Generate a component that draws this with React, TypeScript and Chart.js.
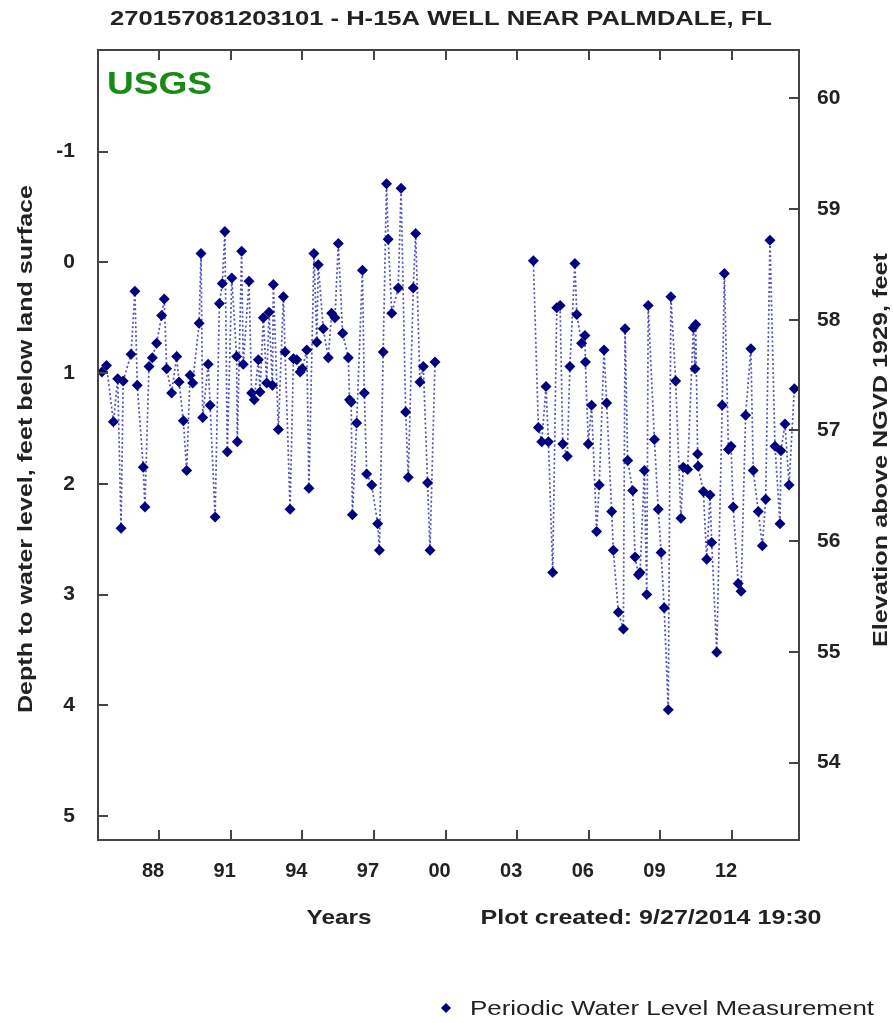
import { useEffect, useRef } from "react";
import { Chart, registerables } from "chart.js";

Chart.register(...registerables);

// ---- Data (decimal year, depth to water in feet below land surface) ----
const YEARS: number[] = [
  1985.61, 1985.8, 1986.09, 1986.27, 1986.41, 1986.5, 1986.83, 1986.99, 1987.09, 1987.34,
  1987.41, 1987.58, 1987.72, 1987.9, 1988.11, 1988.22, 1988.32, 1988.53, 1988.74, 1988.84,
  1989.02, 1989.16, 1989.3, 1989.41, 1989.68, 1989.76, 1989.83, 1990.06, 1990.14, 1990.35,
  1990.53, 1990.65, 1990.76, 1990.86, 1991.05, 1991.25, 1991.28, 1991.46, 1991.53, 1991.77,
  1991.88, 1991.99, 1992.16, 1992.23, 1992.37, 1992.51, 1992.61, 1992.75, 1992.79, 1993.0,
  1993.21, 1993.28, 1993.49, 1993.63, 1993.77, 1993.91, 1994.0, 1994.19, 1994.28, 1994.49,
  1994.61, 1994.67, 1994.88, 1995.09, 1995.23, 1995.37, 1995.51, 1995.69, 1995.93, 1995.98,
  1996.05, 1996.1, 1996.28, 1996.52, 1996.6, 1996.7, 1996.91, 1997.16, 1997.23, 1997.39,
  1997.53, 1997.6, 1997.75, 1998.02, 1998.14, 1998.33, 1998.44, 1998.65, 1998.75, 1998.93,
  1999.07, 1999.25, 1999.35, 1999.56,
  2001.6,
  2003.68, 2003.89, 2004.03, 2004.21, 2004.31, 2004.49, 2004.66, 2004.8, 2004.91, 2005.1,
  2005.21, 2005.42, 2005.5, 2005.7, 2005.84, 2005.86, 2005.98, 2006.12, 2006.33, 2006.44,
  2006.64, 2006.75, 2006.96, 2007.03, 2007.24, 2007.45, 2007.52, 2007.63, 2007.84, 2007.94,
  2008.08, 2008.15, 2008.33, 2008.43, 2008.49, 2008.75, 2008.91, 2009.03, 2009.16, 2009.33,
  2009.44, 2009.64, 2009.86, 2009.96, 2010.14, 2010.38, 2010.45, 2010.48, 2010.56, 2010.58,
  2010.8, 2010.94, 2011.08, 2011.15, 2011.36, 2011.59, 2011.68, 2011.85, 2011.96, 2012.05,
  2012.26, 2012.38, 2012.57, 2012.79, 2012.89, 2013.1, 2013.27, 2013.41, 2013.59, 2013.8,
  2014.01, 2014.05, 2014.22, 2014.39, 2014.61,
];

const DEPTHS: (number | null)[] = [
  0.99, 0.93, 1.44, 1.05, 2.4, 1.07, 0.83, 0.26, 1.11, 1.85,
  2.21, 0.94, 0.86, 0.73, 0.48, 0.33, 0.96, 1.18, 0.85, 1.08,
  1.43, 1.88, 1.02, 1.09, 0.55, -0.08, 1.4, 0.92, 1.29, 2.3,
  0.37, 0.19, -0.28, 1.71, 0.14, 0.85, 1.62, -0.1, 0.92, 0.17,
  1.18, 1.24, 0.88, 1.17, 0.5, 1.09, 0.45, 1.11, 0.2, 1.51,
  0.31, 0.81, 2.23, 0.87, 0.88, 0.99, 0.96, 0.79, 2.04, -0.08,
  0.72, 0.02, 0.6, 0.86, 0.46, 0.5, -0.17, 0.64, 0.86, 1.24,
  1.26, 2.28, 1.45, 0.07, 1.18, 1.91, 2.01, 2.36, 2.6, 0.81,
  -0.71, -0.21, 0.46, 0.23, -0.67, 1.35, 1.94, 0.23, -0.26, 1.08,
  0.94, 1.99, 2.6, 0.9,
  null,
  -0.015, 1.49, 1.62, 1.12, 1.62, 2.8, 0.41, 0.39, 1.64, 1.75,
  0.94, 0.01, 0.47, 0.73, 0.66, 0.9, 1.64, 1.29, 2.43, 2.01,
  0.79, 1.27, 2.25, 2.6, 3.16, 3.31, 0.6, 1.79, 2.06, 2.66,
  2.82, 2.8, 1.88, 3.0, 0.39, 1.6, 2.23, 2.62, 3.12, 4.04,
  0.31, 1.07, 2.31, 1.85, 1.87, 0.59, 0.96, 0.56, 1.73, 1.84,
  2.07, 2.68, 2.1, 2.53, 3.52, 1.29, 0.1, 1.69, 1.66, 2.21,
  2.9, 2.97, 1.38, 0.78, 1.88, 2.25, 2.56, 2.14, -0.2, 1.66,
  2.36, 1.7, 1.46, 2.01, 1.14,
];

const YEAR_TICKS = [1988, 1991, 1994, 1997, 2000, 2003, 2006, 2009, 2012];
const DEPTH_TICKS = [-1, 0, 1, 2, 3, 4, 5];
const ELEV_TICKS = [54, 55, 56, 57, 58, 59, 60];
const YEAR_MIN = 1985.445;
const YEAR_MAX = 2014.806;
const DEPTH_MIN = -1.9185;
const DEPTH_MAX = 5.2168;
const LAND_SURFACE_ELEV = 58.518; // elevation = land surface - depth

const TITLE = "270157081203101 - H-15A WELL NEAR PALMDALE, FL";
const LEFT_TITLE = "Depth to water level, feet below land surface";
const RIGHT_TITLE = "Elevation above NGVD 1929, feet";
const X_TITLE = "Years";
const CREATED = "Plot created: 9/27/2014 19:30";
const LEGEND_LABEL = "Periodic Water Level Measurement";

const FAMILY = "'Liberation Sans', Arial, Helvetica, sans-serif";
const NAVY = "#00007f";
const TEXT = "#222222";
const FRAME = "#444444";

function stretchText(
  ctx: CanvasRenderingContext2D,
  text: string,
  cx: number,
  cy: number,
  font: string,
  width: number,
  color: string,
  rot = 0,
  align: "center" | "left" = "center"
) {
  ctx.save();
  ctx.font = font;
  ctx.fillStyle = color;
  ctx.textAlign = align;
  ctx.textBaseline = "middle";
  const w = ctx.measureText(text).width;
  ctx.translate(cx, cy);
  ctx.rotate(rot);
  ctx.scale(width / w, 1);
  ctx.fillText(text, 0, 0);
  ctx.restore();
}

const decorPlugin = {
  id: "decor",
  afterDraw(chart: any) {
    const ctx: CanvasRenderingContext2D = chart.ctx;
    const a = chart.chartArea;
    const sx = chart.scales.x;
    const sy = chart.scales.y;
    const sy2 = chart.scales.y2;
    ctx.save();
    // inward tick marks
    ctx.strokeStyle = FRAME;
    ctx.lineWidth = 2;
    ctx.beginPath();
    YEAR_TICKS.forEach((v) => {
      const x = Math.round(sx.getPixelForValue(v));
      ctx.moveTo(x, a.top);
      ctx.lineTo(x, a.top + 10);
      ctx.moveTo(x, a.bottom);
      ctx.lineTo(x, a.bottom - 10);
    });
    DEPTH_TICKS.forEach((v) => {
      const y = Math.round(sy.getPixelForValue(v));
      ctx.moveTo(a.left, y);
      ctx.lineTo(a.left + 10, y);
    });
    ELEV_TICKS.forEach((v) => {
      const y = Math.round(sy2.getPixelForValue(v));
      ctx.moveTo(a.right, y);
      ctx.lineTo(a.right - 10, y);
    });
    ctx.stroke();
    // frame
    ctx.lineWidth = 2;
    ctx.strokeRect(a.left, a.top, a.right - a.left, a.bottom - a.top);
    ctx.restore();

    // texts
    stretchText(ctx, TITLE, 441, 19, `bold 20px ${FAMILY}`, 662, TEXT);
    stretchText(ctx, "USGS", 159.5, 85, `bold 32px ${FAMILY}`, 105, "#178a17");
    stretchText(ctx, LEFT_TITLE, 26, 449, `bold 21px ${FAMILY}`, 528, TEXT, -Math.PI / 2);
    stretchText(ctx, RIGHT_TITLE, 881, 450, `bold 21px ${FAMILY}`, 394, TEXT, -Math.PI / 2);
    stretchText(ctx, X_TITLE, 339, 918, `bold 21px ${FAMILY}`, 65, TEXT);
    stretchText(ctx, CREATED, 651, 918, `bold 21px ${FAMILY}`, 341, TEXT);

    // legend
    ctx.save();
    ctx.fillStyle = NAVY;
    ctx.beginPath();
    const lx = 446, ly = 1008, r = 5;
    ctx.moveTo(lx, ly - r);
    ctx.lineTo(lx + r, ly);
    ctx.lineTo(lx, ly + r);
    ctx.lineTo(lx - r, ly);
    ctx.closePath();
    ctx.fill();
    ctx.restore();
    stretchText(ctx, LEGEND_LABEL, 470, 1009, `21px ${FAMILY}`, 404, TEXT, 0, "left");
  },
};

export default function App() {
  const ref = useRef<HTMLCanvasElement | null>(null);

  useEffect(() => {
    if (!ref.current) return;
    const points = YEARS.map((x, i) => ({ x, y: DEPTHS[i] }));
    const tickFont = { family: FAMILY, size: 21, weight: "bold" as const };
    const chart = new Chart(ref.current, {
      type: "line",
      data: {
        datasets: [
          {
            label: LEGEND_LABEL,
            data: points as any,
            borderColor: "rgba(20,20,170,0.75)",
            borderWidth: 1.7,
            borderDash: [2, 2.5],
            pointStyle: "rectRot",
            pointRadius: 5.5,
            pointBackgroundColor: NAVY,
            pointBorderColor: NAVY,
            pointBorderWidth: 0,
            spanGaps: false,
            tension: 0,
            fill: false,
          },
        ],
      },
      options: {
        animation: false,
        responsive: false,
        maintainAspectRatio: false,
        devicePixelRatio: 1,
        layout: { padding: { top: 50, left: 0, right: 0, bottom: 0 } },
        plugins: {
          legend: { display: false },
          title: { display: false },
          tooltip: { enabled: false },
        },
        scales: {
          x: {
            type: "linear",
            min: YEAR_MIN,
            max: YEAR_MAX,
            afterBuildTicks: (s: any) => {
              s.ticks = YEAR_TICKS.map((v) => ({ value: v }));
            },
            afterFit: (s: any) => {
              s.height = 183;
            },
            ticks: {
              autoSkip: false,
              maxRotation: 0,
              padding: 19,
              labelOffset: -6,
              color: TEXT,
              font: { family: FAMILY, size: 20, weight: "bold" as const },
              callback: (v: any) => String(Number(v) % 100).padStart(2, "0"),
            },
            grid: { display: false, drawTicks: false },
            border: { display: false },
          },
          y: {
            type: "linear",
            position: "left",
            reverse: true,
            min: DEPTH_MIN,
            max: DEPTH_MAX,
            afterBuildTicks: (s: any) => {
              s.ticks = DEPTH_TICKS.map((v) => ({ value: v }));
            },
            afterFit: (s: any) => {
              s.width = 98;
            },
            ticks: { padding: 23, color: TEXT, font: tickFont },
            grid: { display: false, drawTicks: false },
            border: { display: false },
          },
          y2: {
            type: "linear",
            position: "right",
            min: LAND_SURFACE_ELEV - DEPTH_MAX,
            max: LAND_SURFACE_ELEV - DEPTH_MIN,
            afterBuildTicks: (s: any) => {
              s.ticks = ELEV_TICKS.map((v) => ({ value: v }));
            },
            afterFit: (s: any) => {
              s.width = 94;
            },
            ticks: { padding: 18, color: TEXT, font: tickFont },
            grid: { display: false, drawTicks: false },
            border: { display: false },
          },
        },
      },
      plugins: [decorPlugin],
    });
    return () => chart.destroy();
  }, []);

  return (
    <div
      style={{
        position: "fixed",
        left: 0,
        top: 0,
        width: 893,
        height: 1023,
        background: "#ffffff",
      }}
    >
      <canvas ref={ref} width={893} height={1023} style={{ display: "block" }} />
    </div>
  );
}
